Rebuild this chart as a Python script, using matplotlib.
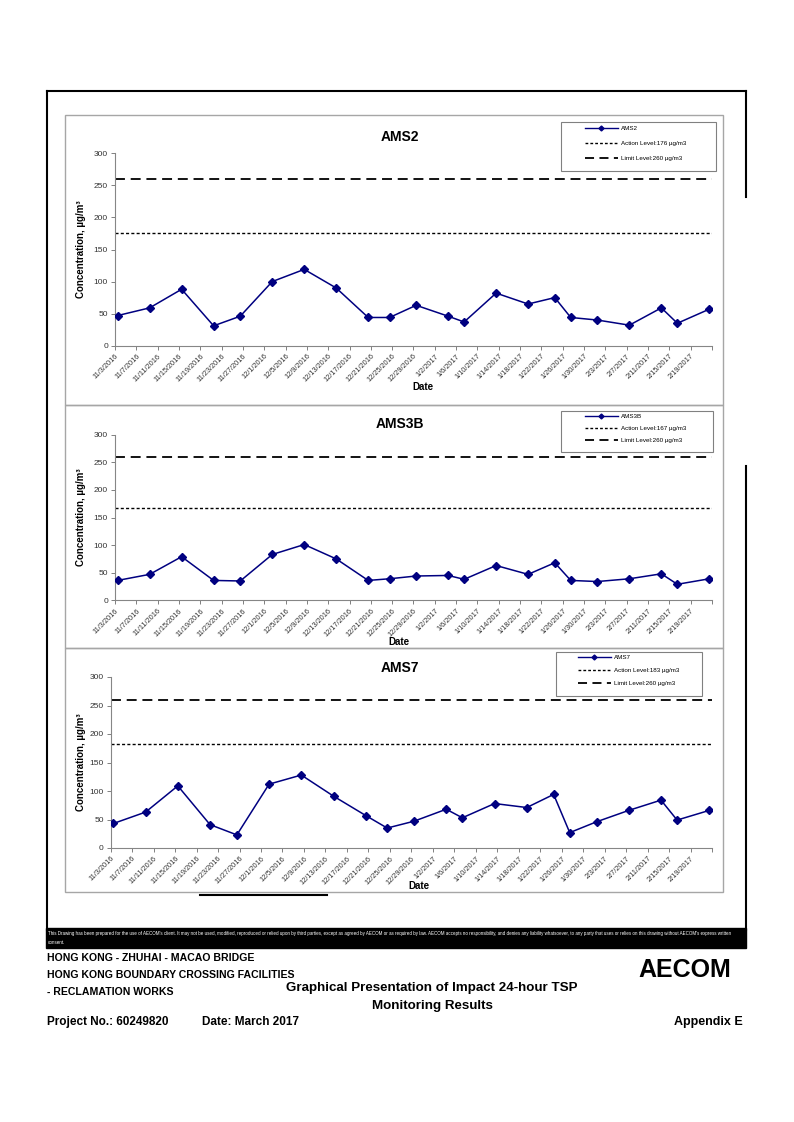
"""Impact 24-hour TSP monitoring results (AMS2 / AMS3B / AMS7), Appendix E page."""
import numpy as np
import matplotlib
matplotlib.use('Agg')
import matplotlib.pyplot as plt
import matplotlib.dates as mdates
from matplotlib.lines import Line2D
from matplotlib.patches import Rectangle

plt.rcParams['font.family'] = ['Liberation Sans', 'DejaVu Sans']

# ── data ──
SAMPLE_DATES = ['2016-11-03', '2016-11-09', '2016-11-15', '2016-11-21', '2016-11-26',
                '2016-12-02', '2016-12-08', '2016-12-14', '2016-12-20', '2016-12-24',
                '2016-12-29', '2017-01-04', '2017-01-07', '2017-01-13', '2017-01-19',
                '2017-01-24', '2017-01-27', '2017-02-01', '2017-02-07', '2017-02-13',
                '2017-02-16', '2017-02-22']
AMS2 = [47, 59, 88, 31, 46, 100, 119, 90, 44, 44, 63, 46, 37, 82, 65, 75, 44, 40, 32, 59, 35, 57]
AMS3B = [36, 47, 79, 36, 35, 83, 101, 75, 36, 39, 44, 45, 38, 63, 47, 68, 36, 34, 39, 48, 29, 39]
AMS7 = [43, 63, 109, 41, 23, 112, 128, 91, 57, 35, 47, 68, 53, 78, 71, 94, 27, 46, 66, 84, 49, 66]
STATIONS = ['AMS2', 'AMS3B', 'AMS7']
ACTION_LEVELS = [176, 167, 183]
LIMIT_LEVEL = 260
AXIS_START = '2016-11-03'
AXIS_END = '2017-02-23'

W, H = 794, 1122


def fx(x):
    return x / W


def fy(y):
    return 1 - y / H


def rect(l, t, r, b):
    return [fx(l), fy(b), (r - l) / W, (b - t) / H]


def date_label(num):
    d = mdates.num2date(num)
    return f'{d.month}/{d.day}/{d.year}'


# panel layout in page pixels
PANELS = [
    dict(box=(65, 115, 723, 405), ax=(115, 153.3, 712, 345.7), title=(400, 137),
         leg=(561, 122, 716, 171), leg_x=585, leg_top=126, spacing=1.5, date=(423, 387)),
    dict(box=(65, 405, 723, 648), ax=(115, 434.7, 712, 600.3), title=(400, 424),
         leg=(561, 411, 713, 452), leg_x=585, leg_top=414, spacing=1.05, date=(399, 642)),
    dict(box=(65, 648, 723, 892), ax=(110.7, 677, 712, 848), title=(400, 668),
         leg=(556, 652, 702, 696), leg_x=578, leg_top=655, spacing=1.2, date=(419, 886)),
]
SERIES = [AMS2, AMS3B, AMS7]

fig = plt.figure(figsize=(W / 100, H / 100), dpi=100)

x_dates = mdates.datestr2num(SAMPLE_DATES) + 0.5   # Excel centres points in the day
x0 = mdates.datestr2num(AXIS_START)
x1 = mdates.datestr2num(AXIS_END)
ticks = np.arange(x0, x1 + 1, 4)
tick_labels = [date_label(t) for t in ticks]
tick_labels[-1] = ''

for p, name, values, action in zip(PANELS, STATIONS, SERIES, ACTION_LEVELS):
    l, t, r, b = p['box']
    fig.patches.append(Rectangle((fx(l), fy(b)), (r - l) / W, (b - t) / H,
                                 transform=fig.transFigure, fill=False,
                                 edgecolor='#a6a6a6', lw=1.0))
    ax = fig.add_axes(rect(*p['ax']))
    ax.plot(x_dates, values, color='#000080', lw=1.1, marker='D',
            markersize=4.5, zorder=3)
    ax.axhline(action, color='black', lw=1.0, dashes=(2.2, 1.6))
    ax.axhline(LIMIT_LEVEL, color='black', lw=1.3, dashes=(5.5, 3.2))
    ax.set_xlim(x0, x1)
    ax.set_ylim(0, 300)
    ax.set_yticks(np.arange(0, 301, 50))
    ax.set_xticks(ticks)
    ax.set_xticklabels(tick_labels, rotation=45, ha='right', va='top',
                       rotation_mode='anchor', fontsize=5.3, color='#333333')
    ax.tick_params(axis='y', labelsize=6, colors='#333333', length=3, width=0.7,
                   pad=2, color='#808080')
    ax.tick_params(axis='x', length=3, width=0.7, pad=2, color='#808080')
    for s in ('top', 'right'):
        ax.spines[s].set_visible(False)
    for s in ('left', 'bottom'):
        ax.spines[s].set_color('#868686')
        ax.spines[s].set_linewidth(0.8)
    ax.set_ylabel('Concentration, µg/m³', fontsize=7, fontweight='bold')
    ax.yaxis.set_label_coords((86 - p['ax'][0]) / (p['ax'][2] - p['ax'][0]), 0.5)

    fig.text(fx(p['title'][0]), fy(p['title'][1]), name, ha='center', va='center',
             fontsize=10, fontweight='bold')
    fig.text(fx(p['date'][0]), fy(p['date'][1]), 'Date', ha='center', va='center',
             fontsize=7, fontweight='bold')

    # legend
    gl, gt, gr, gb = p['leg']
    fig.patches.append(Rectangle((fx(gl), fy(gb)), (gr - gl) / W, (gb - gt) / H,
                                 transform=fig.transFigure, fill=False,
                                 edgecolor='#808080', lw=0.8))
    h_ser = Line2D([], [], color='#000080', lw=1.0, marker='D', markersize=2.5)
    h_act = Line2D([], [], color='black', lw=1.0, dashes=(2.0, 1.5))
    h_lim = Line2D([], [], color='black', lw=1.3, dashes=(5.0, 3.0))
    ax.legend([h_ser, h_act, h_lim],
              [name, f'Action Level:{action} µg/m3', f'Limit Level:{LIMIT_LEVEL} µg/m3'],
              loc='upper left', bbox_to_anchor=(fx(p['leg_x']), fy(p['leg_top'])),
              bbox_transform=fig.transFigure, frameon=False, fontsize=4.5,
              handlelength=5.2, handletextpad=0.5, borderpad=0,
              borderaxespad=0, labelspacing=p['spacing'])

# ── page frame ──
frame_kw = dict(color='black', lw=1.5, transform=fig.transFigure)
fig.add_artist(Line2D([fx(46.5), fx(746)], [fy(91), fy(91)], **frame_kw))
fig.add_artist(Line2D([fx(46.5), fx(46.5)], [fy(91), fy(930)], **frame_kw))
fig.add_artist(Line2D([fx(746), fx(746)], [fy(91), fy(197)], **frame_kw))
fig.add_artist(Line2D([fx(746), fx(746)], [fy(466), fy(930)], **frame_kw))
fig.add_artist(Line2D([fx(200), fx(327)], [fy(895), fy(895)], **frame_kw))

# disclaimer band
narrow = ['Liberation Sans Narrow', 'Liberation Sans']
fig.patches.append(Rectangle((fx(46), fy(948)), (746 - 46) / W, 20 / H,
                             transform=fig.transFigure, color='black'))
fig.text(fx(48), fy(934), "This Drawing has been prepared for the use of AECOM's client. "
         "It may not be used, modified, reproduced or relied upon by third parties, except as "
         "agreed by AECOM or as required by law. AECOM accepts no responsibility, and denies any "
         "liability whatsoever, to any party that uses or relies on this drawing without AECOM's "
         "express written", color='white', fontsize=3.25, va='center', ha='left', family=narrow)
fig.text(fx(48), fy(943), 'consent.', color='white', fontsize=3.25, va='center', ha='left',
         family=narrow)

# title block
tb = dict(fontsize=7.6, fontweight='bold', va='center', ha='left')
fig.text(fx(47), fy(958), 'HONG KONG - ZHUHAI - MACAO BRIDGE', **tb)
fig.text(fx(47), fy(975), 'HONG KONG BOUNDARY CROSSING FACILITIES', **tb)
fig.text(fx(47), fy(992), '- RECLAMATION WORKS', **tb)
fig.text(fx(432), fy(988), 'Graphical Presentation of Impact 24-hour TSP',
         fontsize=9.6, fontweight='bold', ha='center', va='center')
fig.text(fx(432), fy(1006), 'Monitoring Results',
         fontsize=9.6, fontweight='bold', ha='center', va='center')
fig.text(fx(47), fy(1022), 'Project No.: 60249820', fontsize=8.5, fontweight='bold',
         va='center', ha='left')
fig.text(fx(202), fy(1022), 'Date: March 2017', fontsize=8.5, fontweight='bold',
         va='center', ha='left')
fig.text(fx(743), fy(1022), 'Appendix E', fontsize=9, fontweight='bold',
         va='center', ha='right')
fig.text(fx(731), fy(970), 'AECOM', fontsize=18, fontweight='bold',
         va='center', ha='right')

fig.savefig('out.png', dpi=100)
plt.close(fig)
